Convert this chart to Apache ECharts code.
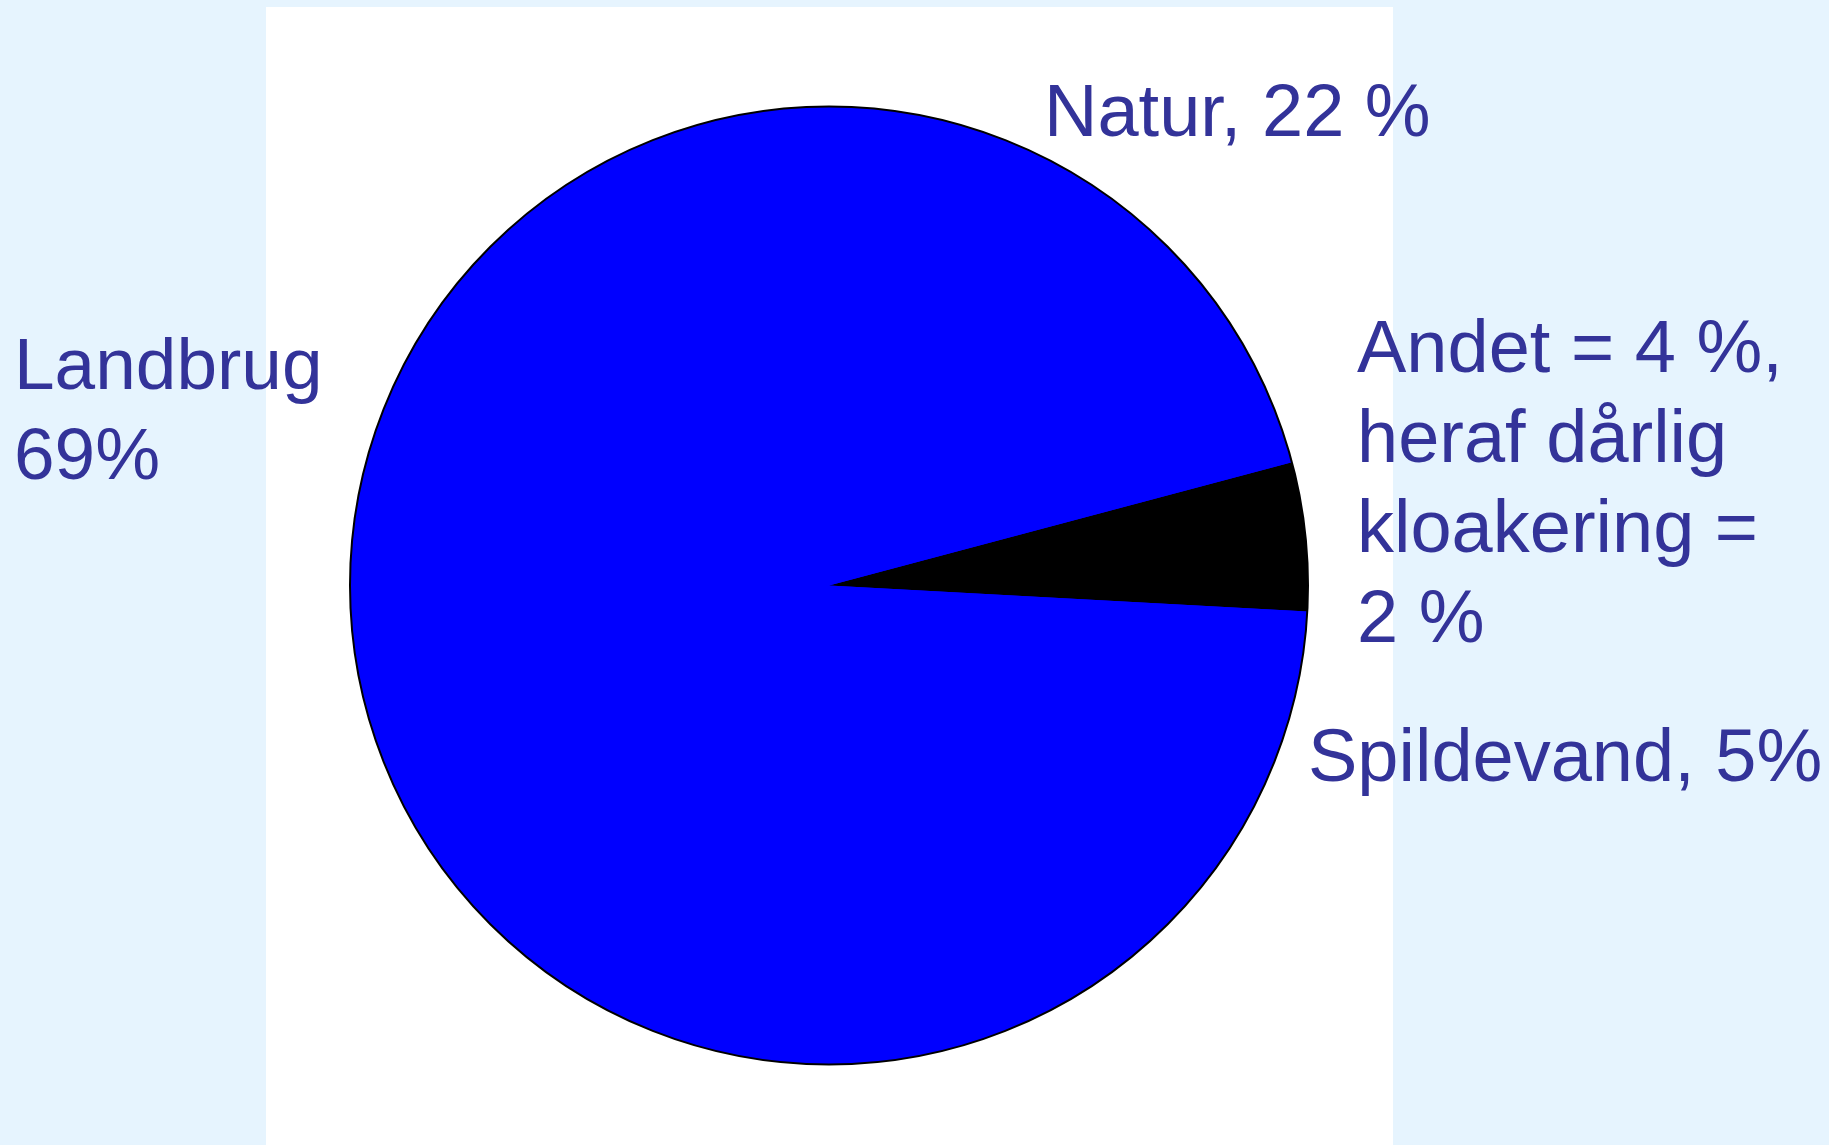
<!DOCTYPE html>
<html>
<head>
<meta charset="utf-8">
<title>Kilder til kvælstofbelastning</title>
<script src="https://cdn.jsdelivr.net/npm/echarts@6/dist/echarts.min.js"></script>
<style>
  html, body { margin: 0; padding: 0; background: #e6f4fe; }
  #chart { width: 1829px; height: 1145px; }
</style>
</head>
<body>
<div id="chart"></div>
<script>
// Source shares (percent), clockwise from the black wedge
const categories = ['Spildevand', 'Andet', 'Landbrug', 'Natur'];
const shares = [5, 4, 69, 22];
const labelTexts = [
  'Spildevand, 5%',
  'Andet = 4 %,\nheraf dårlig\nkloakering =\n2 %',
  'Landbrug\n69%',
  'Natur, 22 %'
];

const sliceColors = { Spildevand: '#000000', Andet: '#0000ff', Landbrug: '#0000ff', Natur: '#0000ff' };
const labelPos = {
  Spildevand: [1308, 716],
  Andet: [1357, 307],
  Landbrug: [14, 324],
  Natur: [1044, 71]
};

const chart = echarts.init(document.getElementById('chart'), null, { renderer: 'canvas' });

const center = [829, 585.5];
const radius = 479;

const labelGraphics = categories.map(function (name, i) {
  return {
    type: 'text',
    x: labelPos[name][0],
    y: labelPos[name][1],
    z: 10,
    style: {
      text: labelTexts[i],
      fontFamily: '"Liberation Sans", Arial, sans-serif',
      fontSize: name === 'Landbrug' ? 73 : 74,
      lineHeight: 90,
      fill: '#333399',
      align: 'left',
      verticalAlign: 'top'
    }
  };
});

chart.setOption({
  backgroundColor: '#e6f4fe',
  animation: false,
  graphic: [
    {
      type: 'rect',
      z: -10,
      shape: { x: 266, y: 7, width: 1127, height: 1138 },
      style: { fill: '#ffffff' }
    }
  ].concat(labelGraphics),
  series: [
    {
      // blue base disc, hides seams between the blue slices
      type: 'pie',
      center: center,
      radius: radius,
      silent: true,
      z: 1,
      label: { show: false },
      labelLine: { show: false },
      itemStyle: { color: '#0000ff', borderWidth: 0 },
      data: [{ name: 'grund', value: 1 }]
    },
    {
      type: 'pie',
      center: center,
      radius: radius,
      startAngle: 14.9,
      clockwise: true,
      silent: true,
      z: 2,
      label: { show: false },
      labelLine: { show: false },
      itemStyle: { borderWidth: 0 },
      data: categories.map(function (name, i) {
        return { name: name, value: shares[i], itemStyle: { color: sliceColors[name] } };
      })
    },
    {
      // outline of the whole pie
      type: 'pie',
      center: center,
      radius: radius,
      silent: true,
      z: 3,
      label: { show: false },
      labelLine: { show: false },
      itemStyle: { color: 'rgba(0,0,0,0)', borderColor: '#000000', borderWidth: 2 },
      data: [{ name: 'omrids', value: 1 }]
    }
  ]
});
</script>
</body>
</html>
